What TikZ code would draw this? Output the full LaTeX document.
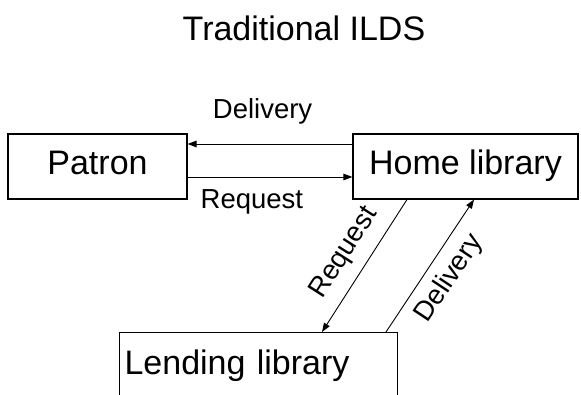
\documentclass[tikz,border=0pt]{standalone}
\usepackage{fontspec}
\setmainfont{Liberation Sans}
\usetikzlibrary{arrows.meta}
\begin{document}
\begin{tikzpicture}[x=1pt,y=-1pt,
  box/.style={draw, line width=1.1pt, inner sep=0pt, text height=24pt, text depth=7pt, font=\fontsize{34}{40}\selectfont},
  conn/.style={line width=0.9pt, -{Triangle[length=9pt,width=6.5pt]}},
  lbl/.style={font=\fontsize{27.5}{32}\selectfont, inner sep=0pt}]
\clip (0,0) rectangle (581,395);
\node[font=\fontsize{34}{40}\selectfont] (title) at (304,28.5) {Traditional ILDS};
\node[box, minimum width=179pt, minimum height=65pt] (patron) at (97.5,166.5) {Patron};
\node[box, minimum width=225pt, minimum height=65pt] (home) at (465.5,166.5) {Home library};
\node[box, anchor=north west, text width=268pt, align=left, inner xsep=5pt, text height=42pt, text depth=50pt] (lend) at (119,332) {Lending library};
\draw[conn] ([yshift=22.5pt]home.west) -- node[lbl, pos=0.545, above=19pt]{Delivery} ([yshift=22.5pt]patron.east);
\draw[conn] ([yshift=-10.5pt]patron.east) -- node[lbl, pos=0.39, below=12pt]{Request} ([yshift=-10.5pt]home.west);
\draw[conn] ([xshift=-58.5pt]home.south) -- node[lbl, midway, sloped, above=11pt]{Request} ([xshift=203pt]lend.north west);
\draw[conn] ([xshift=267pt]lend.north west) -- node[lbl, midway, sloped, below=10pt]{Delivery} ([xshift=8.5pt]home.south);
\end{tikzpicture}
\end{document}
